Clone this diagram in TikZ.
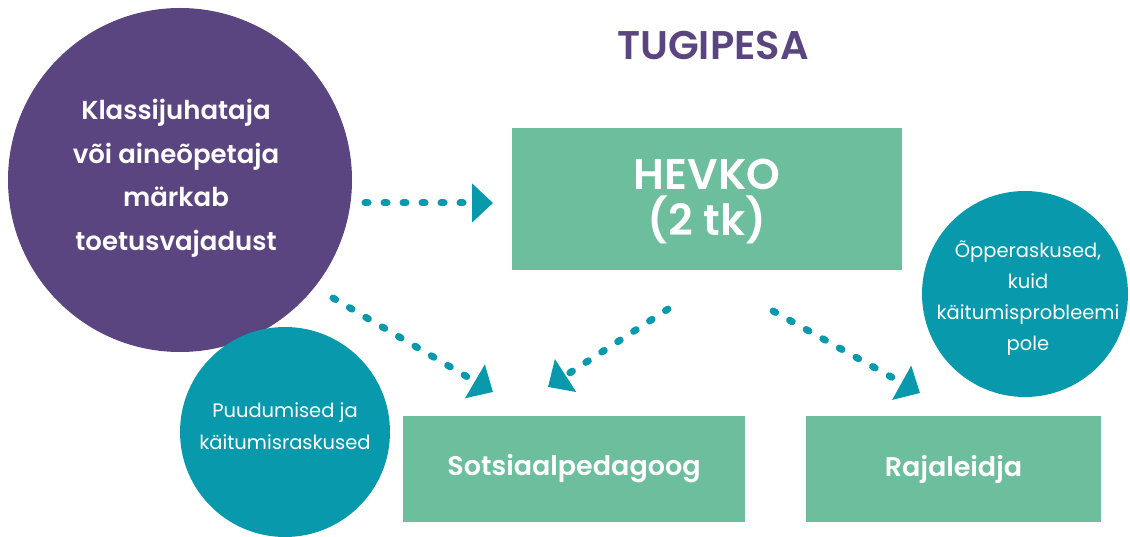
\documentclass[tikz,border=0pt]{standalone}
\usepackage{fontspec}
\setmainfont{Poppins}[BoldFont={Poppins SemiBold}]
\usetikzlibrary{arrows.meta}
\definecolor{purp}{HTML}{5A4580}
\definecolor{grn}{HTML}{6CBE9C}
\definecolor{teal}{HTML}{0899AD}
\tikzset{
  bigcirc/.style={circle, fill=purp, inner sep=0pt},
  smallcirc/.style={circle, fill=teal, inner sep=0pt},
  gbox/.style={rectangle, fill=grn, inner sep=0pt, text=white, align=center},
  lbl/.style={text=white, align=center},
  dotarrow/.style={draw=teal, line width=7pt, line cap=round, dash pattern=on 3pt off 16pt,
    -{Triangle[length=21pt,width=38pt,fill=teal]}}
}
\begin{document}
\begin{tikzpicture}[x=1pt,y=-1pt]
\useasboundingbox (0,0) rectangle (1130,537);
% title
\node[text=purp, font=\bfseries\fontsize{40}{46}\selectfont] (title) at (713,45) {TUGIPESA};
% purple circle
\node[bigcirc, minimum size=344pt] (kl) at (180,180) {};
\node[lbl, font=\bfseries\fontsize{26}{43.5}\selectfont] (klt) at (176,178) {Klassijuhataja\\või aineõpetaja\\märkab\\toetusvajadust};
% boxes
\node[gbox, minimum width=390pt, minimum height=142pt] (hevko) at (707,199) {};
\node[lbl, font=\bfseries\fontsize{43}{46}\selectfont] (hevkot) at (707,202) {HEVKO\\(2 tk)};
\node[gbox, minimum width=342pt, minimum height=106pt, font=\bfseries\fontsize{27}{30}\selectfont] (sots) at (574,469) {Sotsiaalpedagoog};
\node[gbox, minimum width=295pt, minimum height=106pt, font=\bfseries\fontsize{27}{30}\selectfont] (raja) at (953.5,469) {Rajaleidja};
% teal circles
\node[smallcirc, minimum size=210pt] (puu) at (285,432) {};
\node[lbl, font=\fontsize{19.5}{32}\selectfont] (puut) at (285,426) {Puudumised ja\\käitumisraskused};
\node[smallcirc, minimum size=206pt] (opp) at (1025,294) {};
\node[lbl, font=\fontsize{19.5}{31}\selectfont] (oppt) at (1028,298) {Õpperaskused,\\kuid\\käitumisprobleemi\\pole};
% arrow end points
\coordinate (a1s) at (365,203);
\coordinate (a1e) at (493,203);
\coordinate (a2s) at (333,298);
\coordinate (a2e) at (493,392);
\coordinate (a3s) at (668,309);
\coordinate (a3e) at (548,387);
\coordinate (a4s) at (773,311);
\coordinate (a4e) at (920,393);
\draw[dotarrow] (a1s) -- (a1e);
\draw[dotarrow] (a2s) -- (a2e);
\draw[dotarrow] (a3s) -- (a3e);
\draw[dotarrow] (a4s) -- (a4e);
\end{tikzpicture}
\end{document}
